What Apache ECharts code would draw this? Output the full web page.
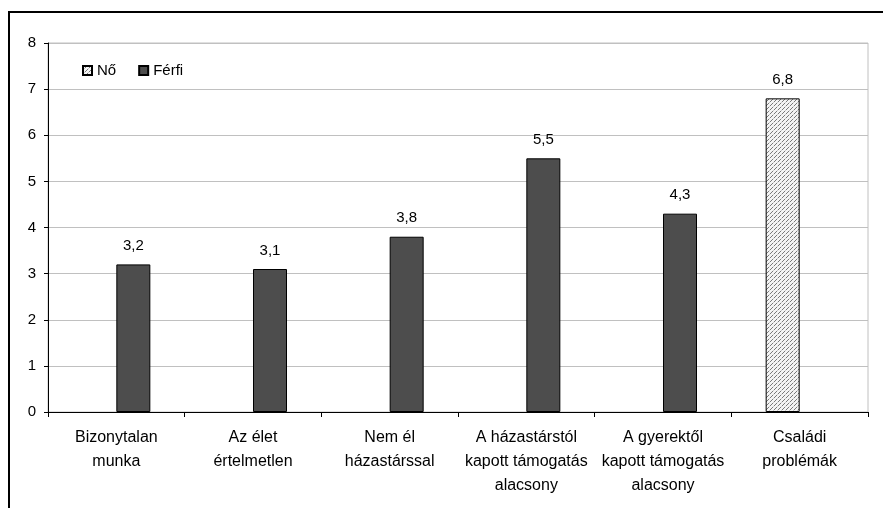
<!DOCTYPE html>
<html>
<head>
<meta charset="utf-8">
<script src="https://cdn.jsdelivr.net/npm/echarts@6/dist/echarts.min.js"></script>
<style>
  html, body { margin: 0; padding: 0; background: #fff; }
  #chart { width: 883px; height: 508px; }
</style>
</head>
<body>
<div id="chart"></div>
<script>
// Categories (axis labels, wrapped as printed)
const categories = [
  'Bizonytalan\nmunka',
  'Az élet\nértelmetlen',
  'Nem él\nházastárssal',
  'A házastárstól\nkapott támogatás\nalacsony',
  'A gyerektől\nkapott támogatás\nalacsony',
  'Családi\nproblémák'
];
const seriesNames = ['Nő', 'Férfi'];
const noValues = [null, null, null, null, null, 6.8];
const ferfiValues = [3.2, 3.1, 3.8, 5.5, 4.3, null];
const yTicks = { min: 0, max: 8, interval: 1 };

// Fine diagonal hatch used for the "Nő" bars
function hatchPattern() {
  const c = document.createElement('canvas');
  c.width = 4; c.height = 4;
  const g = c.getContext('2d');
  g.fillStyle = '#f4f4f4';
  g.fillRect(0, 0, 4, 4);
  g.fillStyle = '#7a7a7a';
  for (let i = 0; i < 4; i++) if (i !== 1) g.fillRect(i, 3 - i, 1, 1);
  g.fillStyle = '#c8c8c8';
  g.fillRect(1, 2, 1, 1);
  return { image: c, repeat: 'repeat' };
}
const hatch = hatchPattern();

const fmt = p => p.value == null ? '' : p.value.toFixed(1).replace('.', ',');
const font = 'Liberation Sans, Arial, sans-serif';

const chart = echarts.init(document.getElementById('chart'), null, { renderer: 'canvas' });
chart.setOption({
  backgroundColor: '#fff',
  animation: false,
  textStyle: { fontFamily: font },
  graphic: [{
    type: 'rect',
    shape: { x: 9, y: 12, width: 900, height: 520 },
    style: { fill: 'none', stroke: '#000', lineWidth: 2 },
    z: 100
  }],
  grid: {
    left: 48, right: 15, top: 43, bottom: 96,
    show: true, borderColor: '#c0c0c0', borderWidth: 1, backgroundColor: 'transparent'
  },
  legend: {
    left: 77, top: 58,
    itemWidth: 9, itemHeight: 9, itemGap: 22,
    icon: 'rect',
    textStyle: { fontSize: 15, color: '#000', fontFamily: font },
    data: seriesNames
  },
  xAxis: {
    type: 'category',
    data: categories,
    axisLine: { show: true, lineStyle: { color: '#000', width: 1 } },
    axisTick: { show: true, alignWithLabel: false, length: 5, lineStyle: { color: '#000' } },
    axisLabel: { interval: 0, fontSize: 16, color: '#000', lineHeight: 24, margin: 14, fontFamily: font },
    splitLine: { show: false }
  },
  yAxis: {
    type: 'value',
    min: yTicks.min, max: yTicks.max, interval: yTicks.interval,
    axisLine: { show: true, lineStyle: { color: '#000', width: 1 } },
    axisTick: { show: true, length: 4, inside: false, lineStyle: { color: '#000' } },
    axisLabel: { fontSize: 15, color: '#000', margin: 12, fontFamily: font },
    splitLine: { show: true, lineStyle: { color: '#c0c0c0', width: 1 } }
  },
  series: [
    {
      name: seriesNames[0], type: 'bar', data: noValues,
      barWidth: 34, barGap: '0%',
      itemStyle: { color: hatch, borderColor: '#000', borderWidth: 1 },
      label: { show: true, position: 'top', distance: 11, fontSize: 15, color: '#000', formatter: fmt, fontFamily: font }
    },
    {
      name: seriesNames[1], type: 'bar', data: ferfiValues,
      barWidth: 34, barGap: '0%',
      itemStyle: { color: '#4d4d4d', borderColor: '#000', borderWidth: 1 },
      label: { show: true, position: 'top', distance: 11, fontSize: 15, color: '#000', formatter: fmt, fontFamily: font }
    }
  ]
});
</script>
</body>
</html>
